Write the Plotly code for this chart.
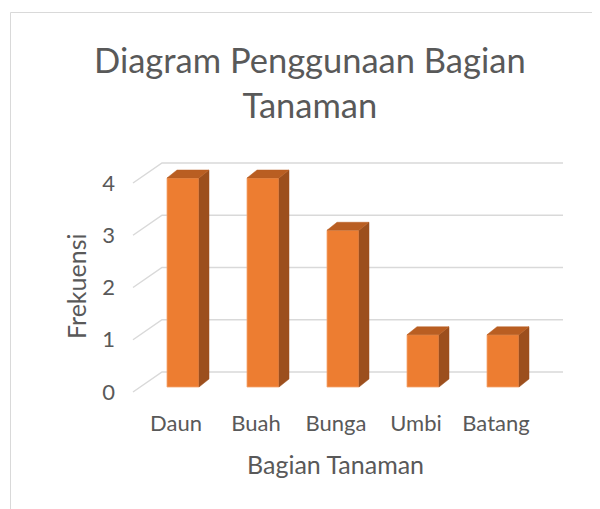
import plotly.graph_objects as go

# ---- data ----
categories = ["Daun", "Buah", "Bunga", "Umbi", "Batang"]
frekuensi = [4, 4, 3, 1, 1]
y_ticks = [0, 1, 2, 3, 4]

title_text = "Diagram Penggunaan Bagian<br>Tanaman"
x_title = "Bagian Tanaman"
y_title = "Frekuensi"

# ---- layout geometry (screen pixels; page body has an 8px margin) ----
OFF = 8
W, H = 600 - OFF, 509 - OFF
L, R, T, B = 116 - OFF, 25, 150 - OFF, 109          # plot-area margins in figure px
PX0, PXU = 183.0 - OFF, 80.0                        # figure px of category 0 centre
PY0, PYU = 387.0 - OFF, 52.25                       # figure px of value 0 (bar front)

def fx(sx):
    return sx - OFF

def xr(px):
    return (px - PX0) / PXU

def yr(py):
    return (PY0 - py) / PYU

x_range = [xr(L), xr(W - R)]
y_range = [yr(H - B), yr(T)]

def paper_x(sx):
    return (fx(sx) - L) / (W - L - R)

def paper_y(sy):
    return ((H - B) - fx(sy)) / (H - T - B)

FONT = "Lato"
TXT = "#595959"
GRID = "#D9D9D9"
FRONT = "#ED7D31"
SIDE = "#9C4F1D"
TOP = "#B95E22"

# depth offsets (data units)
BAR_W = 0.40
BAR_DX, BAR_DY = 10 / PXU, 8 / PYU
BACK_Y = 15 / PYU
FLOOR_X0, FLOOR_X1 = xr(fx(133)), xr(fx(162))
WALL_X1 = xr(fx(563))
FRONT_DY = -5 / PYU

fig = go.Figure()

# gridlines (back wall + floor diagonals), drawn beneath the bars
grid_shapes = []
for k in y_ticks:
    grid_shapes.append(dict(type="path", xref="x", yref="y", layer="below",
                            path=f"M {FLOOR_X0},{k + FRONT_DY} L {FLOOR_X1},{k + BACK_Y} L {WALL_X1},{k + BACK_Y}",
                            line=dict(color=GRID, width=1.5)))

# front faces
fig.add_trace(go.Bar(x=list(range(len(categories))), y=frekuensi, width=BAR_W,
                     marker=dict(color=FRONT, line=dict(color="#F4A46E", width=0.8)),
                     showlegend=False, hovertext=categories))

# side and top faces
sx, sy, tx, ty = [], [], [], []
for i, v in enumerate(frekuensi):
    r = i + BAR_W / 2
    l = i - BAR_W / 2
    sx += [r, r + BAR_DX, r + BAR_DX, r, r, None]
    sy += [0, BAR_DY, v + BAR_DY, v, 0, None]
    tx += [l, r, r + BAR_DX, l + BAR_DX, l, None]
    ty += [v, v, v + BAR_DY, v + BAR_DY, v, None]
fig.add_trace(go.Scatter(x=sx, y=sy, mode="lines", fill="toself", fillcolor=SIDE,
                         line=dict(color=SIDE, width=0.5), hoverinfo="skip", showlegend=False))
fig.add_trace(go.Scatter(x=tx, y=ty, mode="lines", fill="toself", fillcolor=TOP,
                         line=dict(color=TOP, width=0.5), hoverinfo="skip", showlegend=False))

fig.update_layout(
    width=W, height=H,
    margin=dict(l=L, r=R, t=T, b=B, autoexpand=False),
    paper_bgcolor="white", plot_bgcolor="white",
    font=dict(family=FONT, color=TXT),
    xaxis=dict(range=x_range, tickvals=[i - 7 / PXU for i in range(len(categories))],
               ticktext=categories, showgrid=False, zeroline=False, showline=False,
               ticks="", tickfont=dict(size=22, color=TXT), ticklabelstandoff=8),
    yaxis=dict(range=y_range, tickvals=[k + FRONT_DY for k in y_ticks],
               ticktext=[str(k) for k in y_ticks], showgrid=False, zeroline=False,
               showline=False, ticks="", tickfont=dict(size=22, color=TXT)),
    annotations=[
        dict(text=title_text, x=paper_x(310), y=paper_y(82), xref="paper", yref="paper",
             xanchor="center", yanchor="middle",
             showarrow=False, font=dict(size=34.5, color=TXT, family=FONT)),
        dict(text=x_title, x=paper_x(335), y=paper_y(464), xref="paper", yref="paper",
             xanchor="center", yanchor="middle",
             showarrow=False, font=dict(size=25, color=TXT, family=FONT)),
        dict(text=y_title, x=paper_x(76), y=paper_y(287), xref="paper", yref="paper",
             xanchor="center", yanchor="middle",
             showarrow=False, textangle=-90, font=dict(size=25, color=TXT, family=FONT)),
    ],
    shapes=[dict(type="rect", xref="paper", yref="paper",
                 x0=paper_x(10.5), x1=paper_x(640), y0=paper_y(12.5), y1=paper_y(560),
                 line=dict(color=GRID, width=1), layer="below")] + grid_shapes,
)

fig.write_html("out.html")
